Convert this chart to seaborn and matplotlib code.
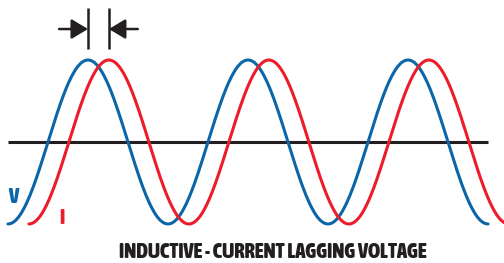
import numpy as np
import pandas as pd
import matplotlib
matplotlib.use("Agg")
import matplotlib.pyplot as plt
from matplotlib import font_manager as fm
import seaborn as sns

# ---- data ----
series = ["V", "I"]                 # voltage, current
amplitudes = [1.0, 1.0]
lag_deg = [0.0, 47.0]               # current lags voltage by ~47 degrees
start_deg = [-90.0, -43.0]          # each wave starts at a trough
end_deg = [990.0, 1037.0]
colors = ["#0a66a8", "#ec1c2a"]
title = "INDUCTIVE - CURRENT LAGGING VOLTAGE"

rows = []
for name, amp, lag, s, e in zip(series, amplitudes, lag_deg, start_deg, end_deg):
    th = np.linspace(s, e, 800)
    rows.append(pd.DataFrame({"theta": th,
                              "value": amp * np.sin(np.radians(th - lag)),
                              "series": name}))
df = pd.concat(rows, ignore_index=True)

sns.set_theme(style="white")
plt.rcParams["font.family"] = ["DejaVu Sans"]

# choose a condensed bold face if one is installed
def pick_condensed():
    best = None
    for f in fm.fontManager.ttflist:
        nm = f.name + " " + str(f.fname)
        narrow = ("Narrow" in nm or "Condensed" in nm or
                  str(f.stretch) in ("condensed", "semi-condensed", "extra-condensed", "ultra-condensed"))
        w = f.weight if isinstance(f.weight, int) else {"bold": 700, "heavy": 800, "black": 900}.get(str(f.weight), 400)
        if narrow and w >= 700 and "Italic" not in nm and "Oblique" not in nm:
            if best is None or w > best[0]:
                best = (w, f.fname)
    if best:
        return fm.FontProperties(fname=best[1])
    return fm.FontProperties(family="DejaVu Sans", weight="bold")

fp = pick_condensed()

fig = plt.figure(figsize=(5.04, 2.63), dpi=100)
ax = fig.add_axes([0, 0, 1, 1])

# zero axis line
ax.plot([start_deg[0], end_deg[0]], [0, 0], color="#231f20", lw=2.2, zorder=1,
        solid_capstyle="butt")

sns.lineplot(data=df, x="theta", y="value", hue="series", palette=colors,
             hue_order=series, sort=False, estimator=None, lw=2.2,
             legend=False, ax=ax, zorder=2)

ax.set_xlim(-108, 1026)
ax.set_ylim(-1.476, 1.732)
ax.axis("off")

# phase-shift marker above first peaks
p_v = 90 + lag_deg[0]
p_i = 90 + lag_deg[1]
for p in (p_v, p_i):
    ax.plot([p, p], [1.134, 1.634], color="#231f20", lw=1.8, solid_capstyle="butt")
arrow_kw = dict(arrowstyle="-|>,head_length=1.0,head_width=0.6", color="#231f20",
                lw=1.8, mutation_scale=10, shrinkA=0, shrinkB=0)
ax.annotate("", xy=(p_v, 1.378), xytext=(p_v - 65, 1.378), arrowprops=arrow_kw)
ax.annotate("", xy=(p_i, 1.378), xytext=(p_i + 65, 1.378), arrowprops=arrow_kw)

# labels
fpl = fp.copy()
fpl.set_size(15)
ax.text(-90, -0.74, "V", color=colors[0], fontproperties=fpl,
        ha="left", va="baseline")
ax.text(26, -1.0, "I", color=colors[1], fontproperties=fpl,
        ha="left", va="baseline")

fpt = fp.copy()
fpt.set_size(14)
t = fig.text(273 / 504, 0.5 / 263, title, color="#231f20", fontproperties=fpt,
             ha="center", va="bottom")
fig.canvas.draw()
w = t.get_window_extent().width
fpt.set_size(min(16, 14 * 307 / w))
t.set_fontproperties(fpt)

fig.savefig("out.png", dpi=100)
